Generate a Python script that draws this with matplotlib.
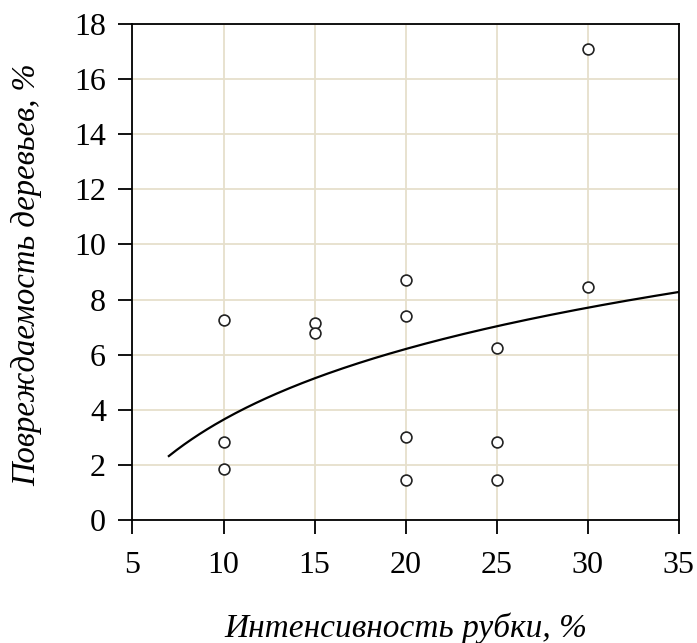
import numpy as np
import matplotlib.pyplot as plt

# intensity of cutting (%) and tree damage (%)
x_int = [10, 10, 10, 15, 15, 20, 20, 20, 20, 25, 25, 25, 30, 30]
y_dmg = [7.25, 2.85, 1.85, 7.15, 6.8, 8.7, 7.4, 3.0, 1.45, 6.25, 2.85, 1.45, 17.1, 8.45]

xticks = [5, 10, 15, 20, 25, 30, 35]
yticks = [0, 2, 4, 6, 8, 10, 12, 14, 16, 18]

plt.rcParams['font.family'] = ['Liberation Serif', 'DejaVu Serif']

fig = plt.figure(figsize=(6.97, 6.43), dpi=100)
ax = fig.add_axes([0.19, 0.191, 0.784, 0.772])

# logarithmic trend line (least squares on ln x)
a, b = np.polyfit(np.log(x_int), y_dmg, 1)
xt = np.linspace(7, 35, 200)
ax.plot(xt, a * np.log(xt) + b, color='black', lw=1.6, zorder=3)

ax.plot(x_int, y_dmg, 'o', ms=7.8, mfc='white', mec='#222222', mew=1.2, zorder=4)

ax.set_xlim(5, 35)
ax.set_ylim(0, 18)
ax.set_xticks(xticks)
ax.set_yticks(yticks)
ax.grid(True, color='#e6dfcc', lw=1.3)
ax.set_axisbelow(True)
for s in ax.spines.values():
    s.set_linewidth(1.3)
ax.tick_params(direction='out', length=10, width=1.3, labelsize=23, pad=9)
ax.tick_params(axis='x', pad=12)

ax.set_xlabel('Интенсивность рубки, %', fontsize=24, style='italic')
ax.set_ylabel('Повреждаемость деревьев, %', fontsize=23.5, style='italic')
ax.xaxis.set_label_coords(0.5, -0.185)
ax.yaxis.set_label_coords(-0.165, 0.495)

fig.savefig('out.png', dpi=100)
